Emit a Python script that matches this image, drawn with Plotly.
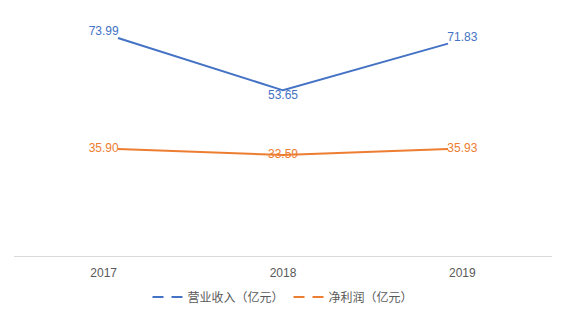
import plotly.graph_objects as go

years = ["2017", "2018", "2019"]
revenue = [73.99, 53.65, 71.83]
profit = [35.90, 33.59, 35.93]
names = ["营业收入（亿元）", "净利润（亿元）"]

BLUE = "#4472C4"
ORANGE = "#ED7D31"
GRAY = "#595959"
FONT = "Liberation Sans, Noto Sans CJK SC, sans-serif"

fig = go.Figure()
fig.add_trace(go.Scatter(x=years, y=revenue, mode="lines", line=dict(color=BLUE, width=2),
                         xaxis="x2", yaxis="y", showlegend=False, hoverinfo="skip"))
fig.add_trace(go.Scatter(x=years, y=profit, mode="lines", line=dict(color=ORANGE, width=2),
                         xaxis="x2", yaxis="y2", showlegend=False, hoverinfo="skip"))
# value labels, placed at the category centres of the tick axis
fig.add_trace(go.Scatter(x=years, y=revenue, mode="text", text=[f"{v:.2f}" for v in revenue],
                         textposition=["top center", "bottom center", "top center"],
                         textfont=dict(color=BLUE, size=12, family=FONT),
                         xaxis="x", yaxis="y", showlegend=False, hoverinfo="skip",
                         cliponaxis=False))
fig.add_trace(go.Scatter(x=years, y=profit, mode="text", text=[f"{v:.2f}" for v in profit],
                         textposition="middle center",
                         textfont=dict(color=ORANGE, size=12, family=FONT),
                         xaxis="x", yaxis="y2", showlegend=False, hoverinfo="skip",
                         cliponaxis=False))
# legend entries (dashed symbols)
for nm, col in zip(names, [BLUE, ORANGE]):
    fig.add_trace(go.Scatter(x=years, y=[None] * len(years), mode="lines", name=nm,
                             line=dict(color=col, width=2, dash="11px,8px"),
                             xaxis="x", yaxis="y", hoverinfo="skip"))

fig.update_layout(
    width=565, height=315,
    margin=dict(l=14, r=13, t=10, b=59, autoexpand=False),
    paper_bgcolor="white", plot_bgcolor="white",
    font=dict(family=FONT, color=GRAY, size=12),
    xaxis=dict(type="category", categoryorder="array", categoryarray=years,
               range=[-0.5, 2.5], showline=True, linecolor="#D9D9D9", linewidth=1,
               showgrid=False, zeroline=False, ticks="outside", ticklen=6,
               tickcolor="rgba(0,0,0,0)", fixedrange=True, automargin=False,
               tickfont=dict(color=GRAY, size=12, family=FONT)),
    xaxis2=dict(type="category", categoryorder="array", categoryarray=years,
                overlaying="x", range=[-0.63, 2.63], visible=False, fixedrange=True),
    yaxis=dict(range=[-10.8, 84.9], visible=False, showgrid=False, zeroline=False),
    yaxis2=dict(range=[-5.7, 90.0], overlaying="y", visible=False, showgrid=False,
                zeroline=False),
    legend=dict(orientation="h", x=0.5, xanchor="center", yref="container",
                y=0.057, yanchor="middle",
                font=dict(color=GRAY, size=12, family=FONT), itemwidth=30),
)

fig.write_html("out.html")
